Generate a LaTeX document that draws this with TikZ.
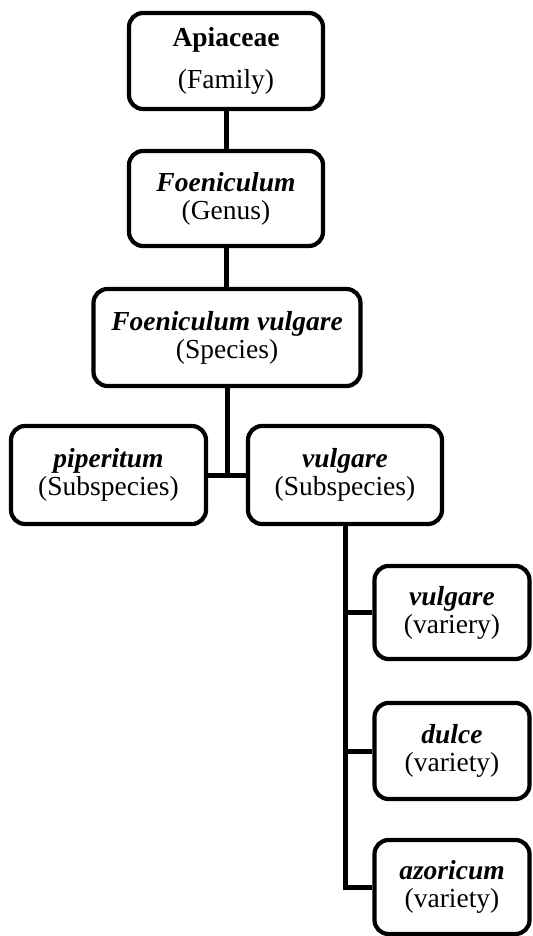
\documentclass[tikz,border=0pt]{standalone}
\usepackage{fontspec}
\setmainfont{Liberation Serif}

\begin{document}
\begin{tikzpicture}[x=0.5pt,y=-0.5pt,
		taxon/.style={draw,rounded corners=7pt,line width=2.1pt,align=center,inner sep=0pt,
			font=\fontsize{13.75}{14}\selectfont},
		branch/.style={line width=2.5pt}]
		\useasboundingbox (0,0) rectangle (533,936);
		
		% Draw the taxa from family down to subspecies
		\node[taxon,minimum width=97pt,minimum height=48pt] (fam) at (226,61){\textbf{Apiaceae}\\[7pt](Family)};
		\node[taxon,minimum width=97pt,minimum height=47.5pt] (gen) at (226,198.5){\textbf{\textit{Foeniculum}}\\(Genus)};
		\node[taxon,minimum width=133.5pt,minimum height=48.5pt] (spec) at (227,337.5){\textbf{\textit{Foeniculum vulgare}}\\(Species)};
		\node[taxon,minimum width=97.5pt,minimum height=49pt] (pip) at (108.5,475){\textbf{\textit{piperitum}}\\(Subspecies)};
		\node[taxon,minimum width=97pt,minimum height=49pt] (vsub) at (345,475){\textbf{\textit{vulgare}}\\(Subspecies)};
		
		% the three varieties
		\node[taxon,minimum width=77.5pt,minimum height=46.5pt] (var1) at (452,612.5){\textbf{\textit{vulgare}}\\(variery)};
		\node[taxon,minimum width=77.5pt,minimum height=48pt] (var2) at (452,751){\textbf{\textit{dulce}}\\(variety)};
		\node[taxon,minimum width=77.5pt,minimum height=47pt] (var3) at (452,887){\textbf{\textit{azoricum}}\\(variety)};
		\coordinate (junc) at (227,475);
		
		% Draw the tree lines
		\draw[branch] (fam) -- (gen);
		\draw[branch] (gen.south) -- (gen.south |- spec.north);
		\draw[branch] (spec.south) -- (junc);
		\draw[branch] (pip.east) -- (vsub.west);
		\draw[branch] (vsub.south) |- (var3.west);
		\foreach \v in {var1, var2}{
			\draw[branch] (vsub.south |- \v.west) -- (\v.west);
		}
	\end{tikzpicture}
\end{document}
